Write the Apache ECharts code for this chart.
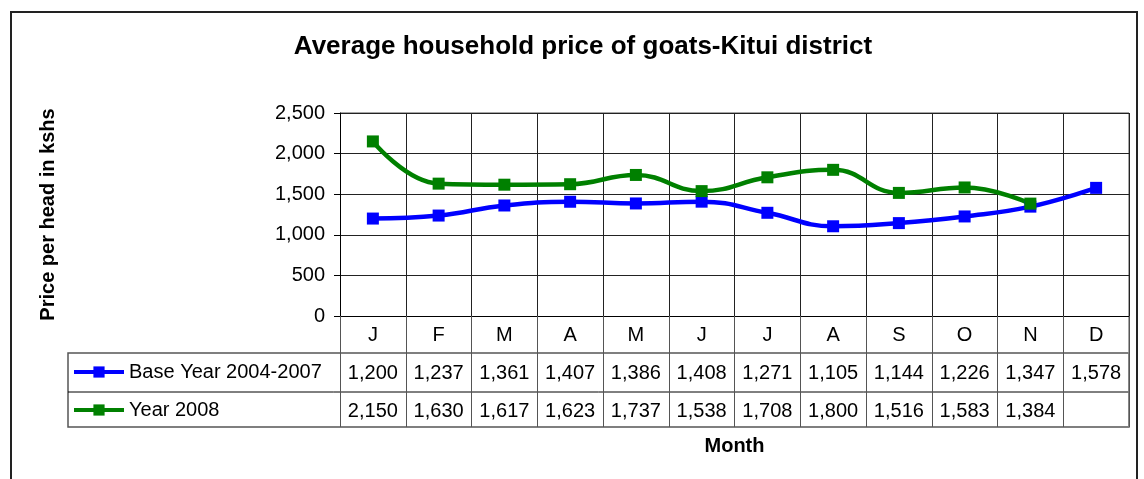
<!DOCTYPE html>
<html><head><meta charset="utf-8">
<script src="https://cdn.jsdelivr.net/npm/echarts@6/dist/echarts.min.js"></script>
<style>html,body{margin:0;padding:0;background:#fff}#c{width:1144px;height:479px}</style>
</head><body><div id="c"></div>
<script>
const months = ['J','F','M','A','M','J','J','A','S','O','N','D'];
const baseYear = [1200,1237,1361,1407,1386,1408,1271,1105,1144,1226,1347,1578];
const year2008 = [2150,1630,1617,1623,1737,1538,1708,1800,1516,1583,1384,null];
const seriesNames = ['Base Year 2004-2007','Year 2008'];
const yTicks = [0,500,1000,1500,2000,2500];

const FONT = 'Liberation Sans, Arial, sans-serif';
const fmt = v => (v === null || v === undefined) ? '' : v.toLocaleString('en-US');
const G = {left:340, top:113, width:789, height:203};
const tableLeft = 68, row1 = 353, row2 = 392, row3 = 427;

const legendCommon = {left:72, padding:0, itemWidth:50, itemHeight:14, itemGap:2,
  lineStyle:{width:4}, textStyle:{fontFamily:FONT, fontSize:20, color:'#000'}};

const chart = echarts.init(document.getElementById('c'));
chart.setOption({
  animation:false,
  backgroundColor:'#fff',
  title:{text:'Average household price of goats-Kitui district', left:578, textAlign:'center', top:29,
    textStyle:{fontFamily:FONT, fontSize:26, fontWeight:'bold', color:'#000'}},
  legend:[
    Object.assign({data:[seriesNames[0]], top:row1+9}, legendCommon),
    Object.assign({data:[seriesNames[1]], top:row2+8}, legendCommon)
  ],
  grid:{left:G.left, top:G.top, width:G.width, height:G.height, containLabel:false},
  xAxis:[
    {type:'category', data:months, boundaryGap:true,
      name:'Month', nameLocation:'middle', nameGap:120,
      nameTextStyle:{fontFamily:FONT, fontSize:20, fontWeight:'bold', color:'#000'},
      axisLine:{lineStyle:{color:'#000', width:1}},
      axisTick:{show:true, interval:0, length:row3-(G.top+G.height), lineStyle:{color:'#555'}},
      axisLabel:{interval:0, margin:9, fontFamily:FONT, fontSize:20, color:'#000'},
      splitLine:{show:true, interval:0, lineStyle:{color:'#222', width:1}}},
    {type:'category', data:baseYear.map(fmt), position:'bottom', offset:row1-(G.top+G.height),
      axisLine:{show:false}, axisTick:{show:false}, splitLine:{show:false},
      axisLabel:{interval:0, margin:10, fontFamily:FONT, fontSize:20, color:'#000'}},
    {type:'category', data:year2008.map(fmt), position:'bottom', offset:row2-(G.top+G.height),
      axisLine:{show:false}, axisTick:{show:false}, splitLine:{show:false},
      axisLabel:{interval:0, margin:9, fontFamily:FONT, fontSize:20, color:'#000'}}
  ],
  yAxis:{type:'value', min:yTicks[0], max:yTicks[yTicks.length-1], interval:500,
    name:'Price per head in kshs', nameLocation:'middle', nameGap:282,
    nameTextStyle:{fontFamily:FONT, fontSize:20, fontWeight:'bold', color:'#000'},
    axisLine:{show:true, lineStyle:{color:'#000', width:1}},
    axisTick:{show:true, length:6, lineStyle:{color:'#000'}},
    axisLabel:{margin:15, fontFamily:FONT, fontSize:20, color:'#000', formatter:v=>fmt(v)},
    splitLine:{show:true, lineStyle:{color:'#222', width:1}}},
  series:[
    {name:seriesNames[0], type:'line', data:baseYear, smooth:0.45, symbol:'rect', symbolSize:12,
      lineStyle:{width:4.5, color:'#0000FF'}, itemStyle:{color:'#0000FF'}},
    {name:seriesNames[1], type:'line', data:year2008, smooth:0.45, symbol:'rect', symbolSize:12,
      lineStyle:{width:4.5, color:'#008000'}, itemStyle:{color:'#008000'}}
  ],
  graphic:[
    {type:'rect', shape:{x:11, y:12, width:1126, height:520}, style:{fill:'none', stroke:'#222', lineWidth:2}, silent:true},
    {type:'rect', shape:{x:tableLeft, y:row1, width:G.left+G.width-tableLeft, height:row3-row1}, style:{fill:'none', stroke:'#555', lineWidth:1.5}, silent:true},
    {type:'line', shape:{x1:tableLeft, y1:row2, x2:G.left+G.width, y2:row2}, style:{stroke:'#000', lineWidth:1}, silent:true},
    {type:'line', shape:{x1:G.left+G.width, y1:G.top, x2:G.left+G.width, y2:row3}, style:{stroke:'#888', lineWidth:1.5}, silent:true},
    {type:'line', shape:{x1:G.left, y1:G.top, x2:G.left+G.width, y2:G.top}, style:{stroke:'#888', lineWidth:1.5}, silent:true}
  ]
});
</script></body></html>
